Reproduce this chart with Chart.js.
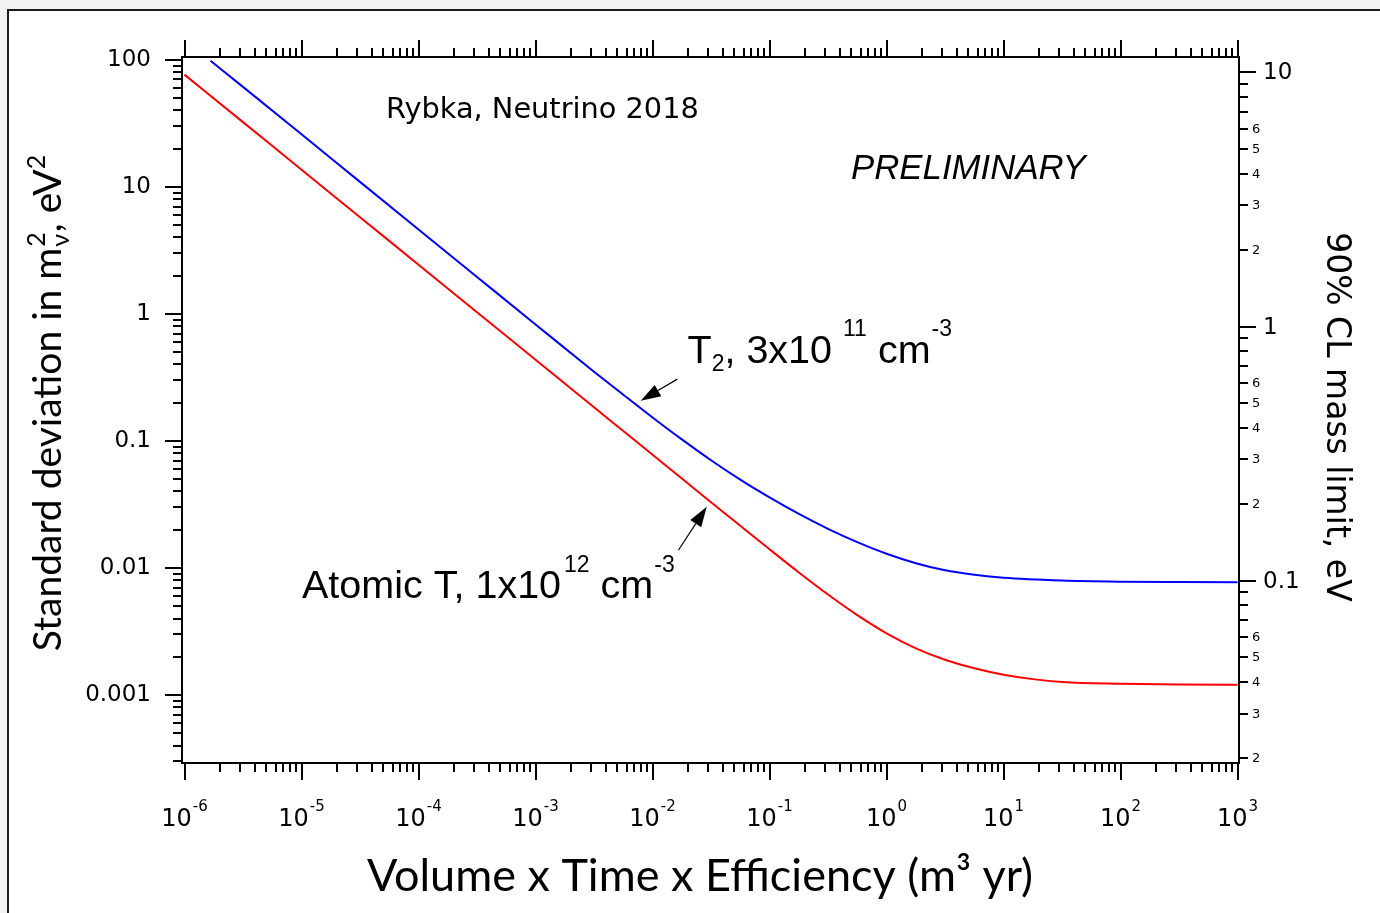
<!DOCTYPE html>
<html><head><meta charset="utf-8">
<script src="https://cdn.jsdelivr.net/npm/chart.js@4.4.0/dist/chart.umd.min.js"></script>
<style>html,body{margin:0;padding:0;background:#fff;overflow:hidden}canvas{display:block}</style>
</head><body>
<canvas id="c" width="1380" height="913"></canvas>
<script>
// ---- data ----
// T2 molecular source, 3x10^11 cm^-3
const exposureT2 = [1.67e-6, 3.16e-6, 1e-5, 3.16e-5, 1e-4, 3.16e-4, 1e-3, 3.16e-3, 5.62e-3, 1e-2, 1.78e-2, 3.16e-2, 5.62e-2, 0.1, 0.178, 0.316, 0.562, 1, 1.78, 3.16, 5.62, 10, 31.6, 100, 316, 1000];
const sigmaT2    = [98.4, 61.2, 25.9, 10.94, 4.62, 1.954, 0.826, 0.3508, 0.2312, 0.1531, 0.1028, 0.07047, 0.04955, 0.03589, 0.02661, 0.02032, 0.01596, 0.01294, 0.01091, 0.009594, 0.008851, 0.008375, 0.007962, 0.007798, 0.007745, 0.007727];
// Atomic T source, 1x10^12 cm^-3
const exposureAtomic = [1e-6, 3.16e-6, 1e-5, 3.16e-5, 1e-4, 3.16e-4, 1e-3, 3.16e-3, 5.62e-3, 1e-2, 1.78e-2, 3.16e-2, 5.62e-2, 0.1, 0.178, 0.316, 0.562, 1, 1.78, 3.16, 5.62, 10, 17.8, 31.6, 100, 316, 1000];
const sigmaAtomic    = [76.4, 32.3, 13.65, 5.77, 2.44, 1.03, 0.4355, 0.184, 0.1197, 0.0778, 0.0506, 0.03296, 0.02148, 0.01403, 0.009226, 0.00618, 0.004256, 0.003062, 0.002333, 0.001897, 0.001622, 0.001445, 0.001334, 0.001268, 0.001227, 0.00121, 0.001205];

// ---- axes / tick labels ----
const xTickExponents = [-6, -5, -4, -3, -2, -1, 0, 1, 2, 3];
const yTickLabels = ['0.001', '0.01', '0.1', '1', '10', '100'];      // 10^-3 .. 10^2
const massMajorLabels = ['0.1', '1', '10'];                         // 10^-1 .. 10^1
const massMinorLabelled = [2, 3, 4, 5, 6];
const X_MIN = 10 ** -6.0214, X_MAX = 10 ** 3.012;
const Y_MIN_LOG = -3.535, Y_MAX_LOG = 2.022;
const CL_LOG = 0.1;  // log10 of (m^2 limit / sigma) relating the two vertical axes

const isPow10 = v => Math.abs(Math.log10(v) - Math.round(Math.log10(v))) < 1e-6;
function logTickValues(min, max) {
  const out = [];
  for (let e = Math.floor(Math.log10(min)) - 1; e <= Math.ceil(Math.log10(max)); e++) {
    for (let m = 1; m <= 9; m++) {
      const v = m * 10 ** e;
      if (v >= min * 0.99999 && v <= max * 1.00001) out.push({ v, m, e });
    }
  }
  return out;
}

function fontStr(p) {
  return (p.style || '') + ' ' + (p.weight || '') + ' ' + p.size + 'px ' + p.family;
}
function richText(ctx, x, y, parts, opts) {
  opts = opts || {};
  ctx.save();
  ctx.translate(x, y);
  if (opts.rotate) ctx.rotate(opts.rotate);
  ctx.fillStyle = '#000';
  ctx.textAlign = 'left';
  ctx.textBaseline = 'alphabetic';
  const widths = parts.map(p => { ctx.font = fontStr(p); return ctx.measureText(p.t).width; });
  let total = 0;
  parts.forEach((p, i) => { total += (p.dx || 0) + (p.hold ? 0 : Math.max(widths[i], p.minAdv || 0)); });
  let cx = opts.align === 'center' ? -total / 2 : 0;
  parts.forEach((p, i) => {
    cx += p.dx || 0;
    ctx.font = fontStr(p);
    ctx.fillText(p.t, cx, p.dy || 0);
    if (!p.hold) cx += Math.max(widths[i], p.minAdv || 0);
  });
  ctx.restore();
}

const bgPlugin = {
  id: 'bg',
  beforeDraw(chart) {
    const ctx = chart.ctx;
    ctx.save();
    ctx.fillStyle = '#f2f2f2';
    ctx.fillRect(0, 0, chart.width, chart.height);
    ctx.fillStyle = '#ffffff';
    ctx.fillRect(8, 10, chart.width - 8, chart.height - 10);
    ctx.strokeStyle = '#1b1b1b';
    ctx.lineWidth = 2;
    ctx.beginPath();
    ctx.moveTo(8, chart.height); ctx.lineTo(8, 10); ctx.lineTo(chart.width, 10);
    ctx.stroke();
    ctx.restore();
  }
};

const decorPlugin = {
  id: 'decor',
  afterDraw(chart) {
    const ctx = chart.ctx;
    const a = chart.chartArea;
    const xs = chart.scales.x, ys = chart.scales.y, ms = chart.scales.y2;
    ctx.save();
    ctx.strokeStyle = '#000';
    ctx.lineWidth = 2;
    const MAJ = 17, MIN = 9;
    // x ticks bottom and top
    for (const t of logTickValues(xs.min, xs.max)) {
      const px = Math.round(xs.getPixelForValue(t.v));
      const L = t.m === 1 ? MAJ : MIN;
      ctx.beginPath();
      ctx.moveTo(px, a.bottom); ctx.lineTo(px, a.bottom + L);
      ctx.moveTo(px, a.top); ctx.lineTo(px, a.top - L);
      ctx.stroke();
    }
    // left ticks
    for (const t of logTickValues(ys.min, ys.max)) {
      const py = Math.round(ys.getPixelForValue(t.v));
      const L = t.m === 1 ? MAJ : MIN;
      ctx.beginPath(); ctx.moveTo(a.left, py); ctx.lineTo(a.left - L, py); ctx.stroke();
    }
    // right ticks + labels
    ctx.fillStyle = '#000';
    ctx.textBaseline = 'middle';
    ctx.textAlign = 'left';
    for (const t of logTickValues(ms.min, ms.max)) {
      const py = Math.round(ms.getPixelForValue(t.v));
      const L = t.m === 1 ? MAJ : MIN;
      ctx.beginPath(); ctx.moveTo(a.right, py); ctx.lineTo(a.right + L, py); ctx.stroke();
      if (t.m === 1) {
        ctx.font = '23px "DejaVu Sans"';
        ctx.fillText(massMajorLabels[t.e + 1], a.right + 24, py + 1);
      } else if (massMinorLabelled.includes(t.m)) {
        ctx.font = '13px "DejaVu Sans"';
        ctx.fillText(String(t.m), a.right + 13, py + 1);
      }
    }
    // x tick labels 10^n
    xTickExponents.forEach(e => {
      const px = xs.getPixelForValue(10 ** e);
      richText(ctx, px, 826, [
        { t: '10', size: 24, family: '"DejaVu Sans"' },
        { t: String(e), size: 15, family: '"DejaVu Sans"', dy: -15, dx: 1 }
      ], { align: 'center' });
    });

    // axis titles
    richText(ctx, 700, 891, [
      { t: 'Volume x Time x Efficiency (m³ yr)', size: 45, family: 'Lato' }
    ], { align: 'center' });
    richText(ctx, 61, 403, [
      { t: 'Standard deviation in m', size: 39, family: 'Lato' },
      { t: 'ν', size: 25, family: 'Lato', dy: 8, hold: true, dx: 1 },
      { t: '2', size: 25, family: 'Lato', dy: -16, minAdv: 14 },
      { t: ', eV', size: 39, family: 'Lato' },
      { t: '2', size: 25, family: 'Lato', dy: -16 }
    ], { align: 'center', rotate: -Math.PI / 2 });
    richText(ctx, 1327, 417, [
      { t: '90% CL mass limit, eV', size: 33, family: '"DejaVu Sans"' }
    ], { align: 'center', rotate: Math.PI / 2 });

    // annotations anchored in data coordinates
    const P = (x, y) => [xs.getPixelForValue(x), ys.getPixelForValue(y)];
    let q = P(5.27e-5, 34.8);
    richText(ctx, q[0], q[1], [{ t: 'Rybka, Neutrino 2018', size: 28.8, family: '"DejaVu Sans"' }]);
    q = P(0.497, 11.5);
    richText(ctx, q[0], q[1], [{ t: 'PRELIMINARY', size: 34.8, family: '"Liberation Sans"', style: 'italic' }]);
    q = P(0.0199, 0.407);
    richText(ctx, q[0], q[1], [
      { t: 'T', size: 39.5, family: '"Liberation Sans"' },
      { t: '2', size: 23, family: '"Liberation Sans"', dy: 8 },
      { t: ', 3x10', size: 39.5, family: '"Liberation Sans"' },
      { t: '11', size: 23, family: '"Liberation Sans"', dy: -27, dx: 11 },
      { t: ' cm', size: 39.5, family: '"Liberation Sans"' },
      { t: '-3', size: 23, family: '"Liberation Sans"', dy: -27, dx: 1 }
    ]);
    q = P(1.01e-5, 0.00578);
    richText(ctx, q[0], q[1], [
      { t: 'Atomic T, 1x10', size: 39.5, family: '"Liberation Sans"' },
      { t: '12', size: 23, family: '"Liberation Sans"', dy: -26, dx: 3 },
      { t: ' cm', size: 39.5, family: '"Liberation Sans"' },
      { t: '-3', size: 23, family: '"Liberation Sans"', dy: -26, dx: 1 }
    ]);
    // arrows
    const arrow = (tail, tip) => {
      const [x0, y0] = P(tail[0], tail[1]);
      const [x1, y1] = P(tip[0], tip[1]);
      const ang = Math.atan2(y1 - y0, x1 - x0);
      const hl = 20, hw = 6.5;
      const bx = x1 - hl * Math.cos(ang), by = y1 - hl * Math.sin(ang);
      ctx.strokeStyle = '#000'; ctx.fillStyle = '#000'; ctx.lineWidth = 1.2;
      ctx.beginPath(); ctx.moveTo(x0, y0); ctx.lineTo(bx, by); ctx.stroke();
      ctx.beginPath();
      ctx.moveTo(x1, y1);
      ctx.lineTo(bx + hw * Math.sin(ang), by - hw * Math.cos(ang));
      ctx.lineTo(bx - hw * Math.sin(ang), by + hw * Math.cos(ang));
      ctx.closePath(); ctx.fill();
    };
    arrow([0.01629, 0.3066], [0.00793, 0.2070]);
    arrow([0.01663, 0.01380], [0.02904, 0.03027]);
    ctx.restore();
  }
};

const pts = (xs, ys) => xs.map((x, i) => ({ x, y: ys[i] }));
const axisBase = {
  type: 'logarithmic',
  grid: { display: false, drawTicks: false },
  border: { display: true, color: '#000', width: 2 },
};

new Chart(document.getElementById('c'), {
  type: 'line',
  data: {
    datasets: [
      { label: 'T2, 3x10^11 cm^-3', data: pts(exposureT2, sigmaT2), borderColor: '#0000ff', borderWidth: 2,
        pointRadius: 0, cubicInterpolationMode: 'monotone', xAxisID: 'x', yAxisID: 'y', fill: false },
      { label: 'Atomic T, 1x10^12 cm^-3', data: pts(exposureAtomic, sigmaAtomic), borderColor: '#ff0000', borderWidth: 2,
        pointRadius: 0, cubicInterpolationMode: 'monotone', xAxisID: 'x', yAxisID: 'y', fill: false }
    ]
  },
  options: {
    responsive: false,
    animation: false,
    layout: { padding: 0 },
    plugins: { legend: { display: false }, tooltip: { enabled: false }, title: { display: false } },
    scales: {
      x: Object.assign({}, axisBase, { position: 'bottom', min: X_MIN, max: X_MAX,
        ticks: { display: false }, afterFit(s) { s.height = 150; } }),
      x2: Object.assign({}, axisBase, { axis: 'x', position: 'top', min: X_MIN, max: X_MAX,
        ticks: { display: false }, afterFit(s) { s.height = 57; } }),
      y: Object.assign({}, axisBase, { position: 'left', min: 10 ** Y_MIN_LOG, max: 10 ** Y_MAX_LOG,
        afterBuildTicks(s) { s.ticks = logTickValues(s.min, s.max).map(t => ({ value: t.v, major: t.m === 1 })); },
        ticks: { autoSkip: false, maxRotation: 0, padding: 31, color: '#000',
          font: { family: 'DejaVu Sans', size: 23 },
          callback(v) { return isPow10(v) ? yTickLabels[Math.round(Math.log10(v)) + 3] : ''; } },
        afterFit(s) { s.width = 182; } }),
      y2: Object.assign({}, axisBase, { axis: 'y', position: 'right',
        min: 10 ** ((Y_MIN_LOG + CL_LOG) / 2), max: 10 ** ((Y_MAX_LOG + CL_LOG) / 2),
        ticks: { display: false }, afterFit(s) { s.width = 141; } })
    }
  },
  plugins: [bgPlugin, decorPlugin]
});
</script>
</body></html>
